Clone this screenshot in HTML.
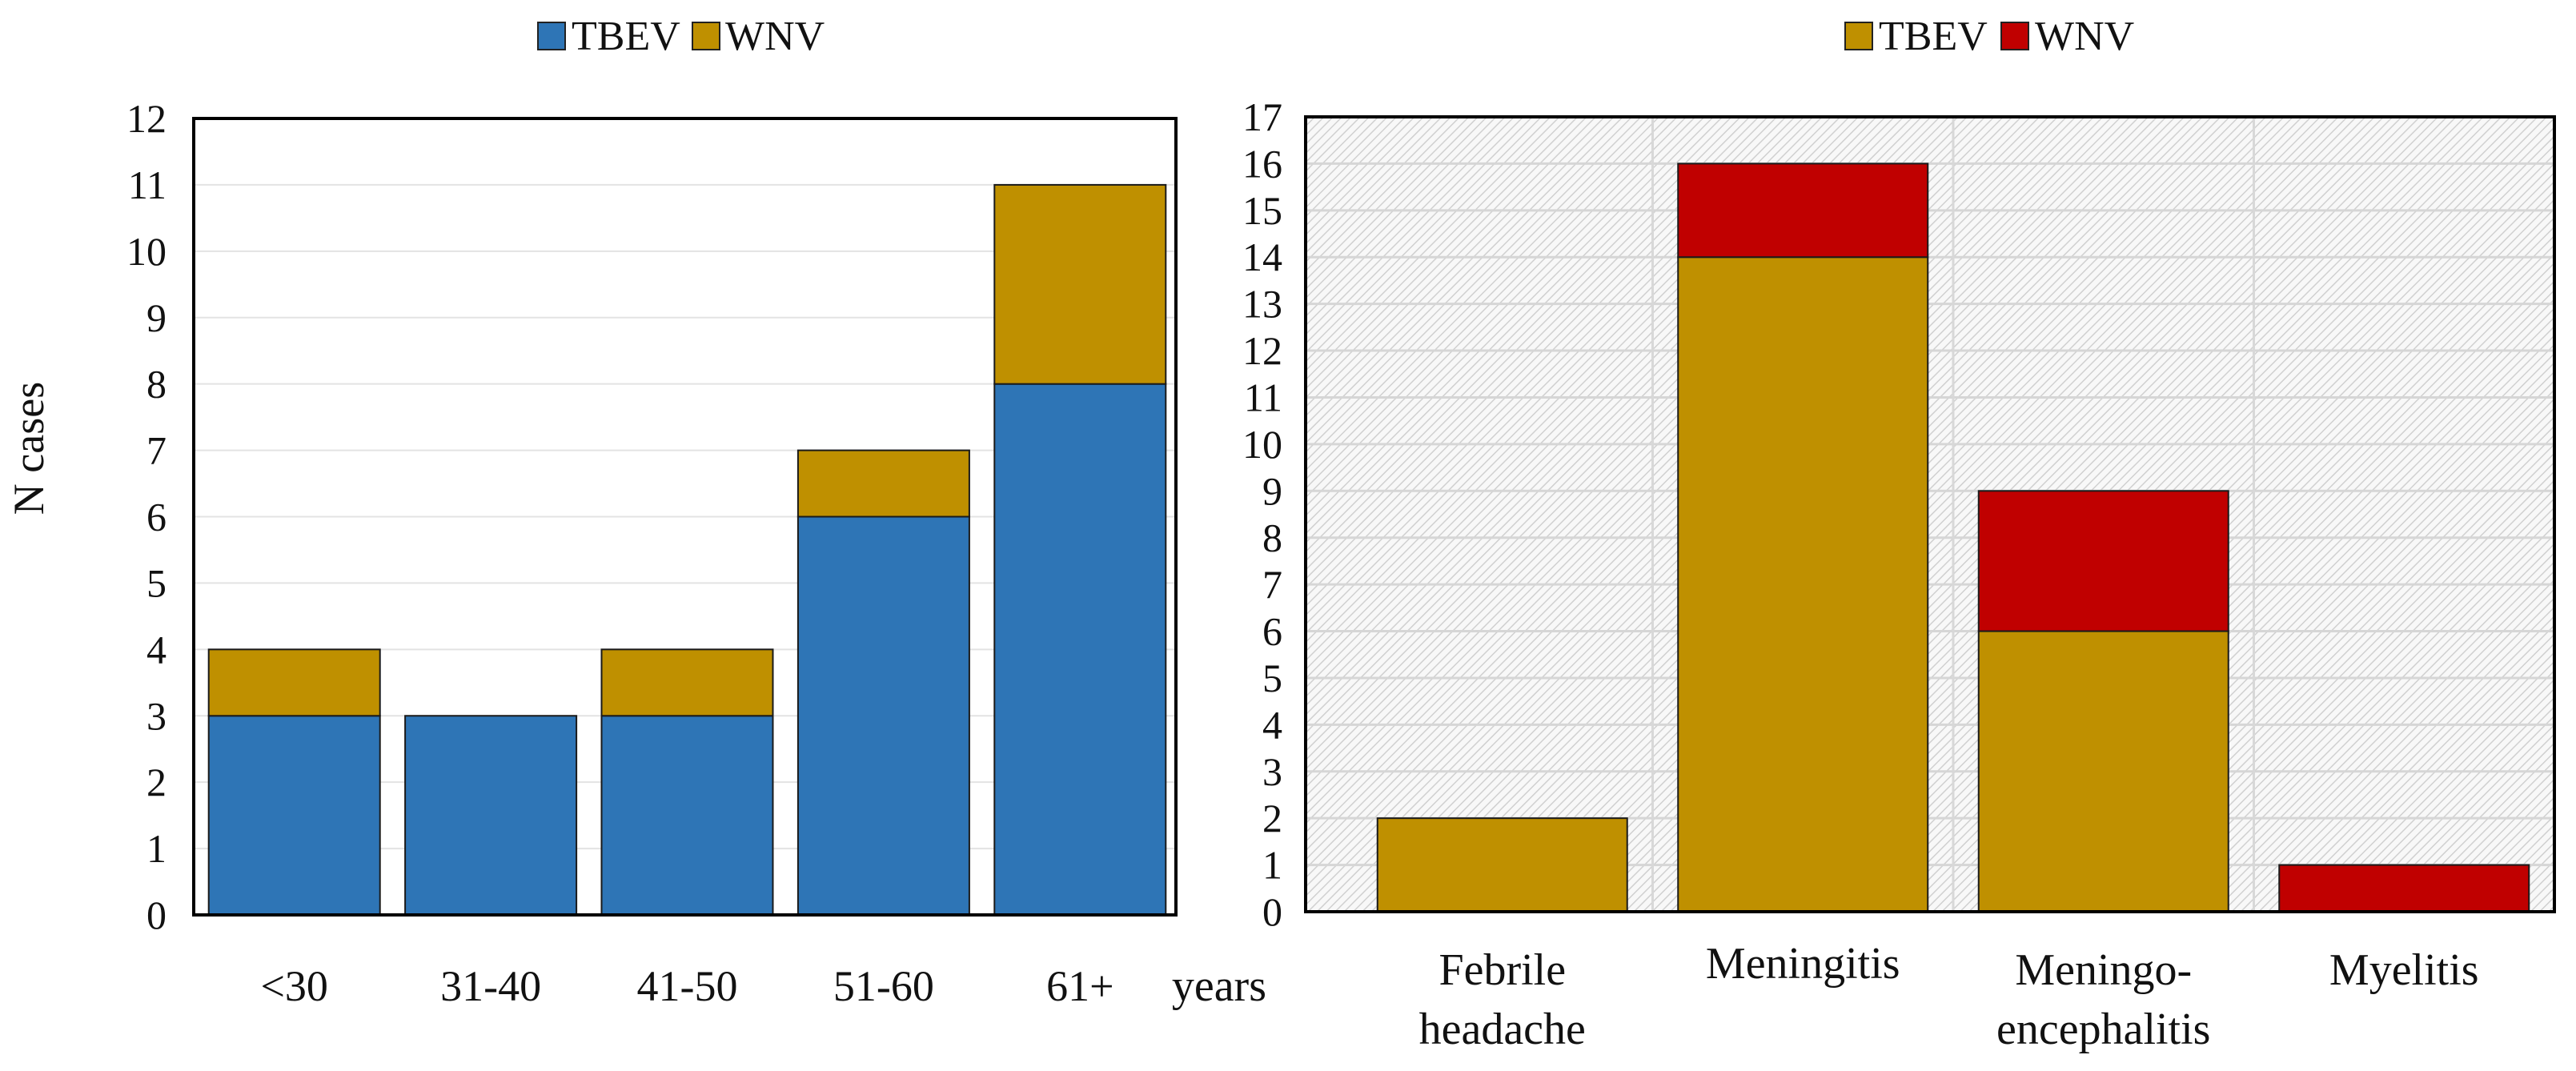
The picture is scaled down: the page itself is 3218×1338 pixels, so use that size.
<!DOCTYPE html>
<html><head><meta charset="utf-8"><style>
html,body{margin:0;padding:0;background:#fff;}
svg{display:block;font-family:"Liberation Serif","DejaVu Serif",serif;}
</style></head><body>
<svg id="chart" width="3218" height="1338" viewBox="0 0 3218 1338" xmlns="http://www.w3.org/2000/svg">
<defs>
<pattern id="hatch" patternUnits="userSpaceOnUse" width="8" height="8" patternTransform="rotate(45)">
<rect width="8" height="8" fill="#f8f8f8"/>
<line x1="0" y1="0" x2="0" y2="8" stroke="#d0d0d0" stroke-width="3"/>
</pattern>
</defs>
<g id="left"></g>
<g id="right"></g>
</svg>
<script>
const ageCategories = ["<30","31-40","41-50","51-60","61+"];
const ageTBEV = [3,3,3,6,8];
const ageWNV = [1,0,1,1,3];
const ageTicks = [0,1,2,3,4,5,6,7,8,9,10,11,12];

const synCategories = [["Febrile","headache"],["Meningitis"],["Meningo-","encephalitis"],["Myelitis"]];
const synTBEV = [2,14,6,0];
const synWNV = [0,2,3,1];
const synTicks = [0,1,2,3,4,5,6,7,8,9,10,11,12,13,14,15,16,17];

const NS="http://www.w3.org/2000/svg";
function mk(parent,tag,attrs,text){
  const e=document.createElementNS(NS,tag);
  for(const k in attrs)e.setAttribute(k,attrs[k]);
  if(text!==undefined)e.textContent=text;
  parent.appendChild(e);return e;
}

// LEFT CHART
(function(){
  const g=document.getElementById('left');
  const x0=242,x1=1469,yTop=148,yBot=1143,max=12;
  const y=v=>yBot-(yBot-yTop)*v/max;
  const bw=(x1-x0)/ageCategories.length;
  const xc=i=>x0+bw*(i+0.5);
  const grid=mk(g,'g',{});
  
  
  ageTicks.forEach(t=>{
    if(t>0&&t<max){const l=mk(grid,'line',{x1:x0,x2:x1,y1:y(t),y2:y(t),stroke:'#e3e3e3','stroke-width':2});
    }
    const tx=mk(g,'text',{x:208,y:y(t)+17,'text-anchor':'end','font-size':50,fill:'#111'},String(t));
    
    
  });
  ageCategories.forEach((c,i)=>{
    const w=214,l=xc(i)-w/2+3;
    const b=mk(g,'rect',{x:l,y:y(ageTBEV[i]),width:w,height:y(0)-y(ageTBEV[i]),fill:'#2e75b6',stroke:'#1a1a1a','stroke-width':2});
    
    
    if(ageWNV[i]>0){
      const b2=mk(g,'rect',{x:l,y:y(ageTBEV[i]+ageWNV[i]),width:w,height:y(ageTBEV[i])-y(ageTBEV[i]+ageWNV[i]),fill:'#bf9000',stroke:'#1a1a1a','stroke-width':2});
      
      
    }
    const t=mk(g,'text',{x:xc(i)+3,y:1250,'text-anchor':'middle','font-size':54,fill:'#111'},c);
    
    
  });
  const fr=mk(g,'rect',{x:x0,y:yTop,width:x1-x0,height:yBot-yTop,fill:'none',stroke:'#000','stroke-width':4});
  
  
  const yr=mk(g,'text',{x:1582,y:1250,'text-anchor':'end','font-size':56,fill:'#111'},'years');
  
  
  const yt=mk(g,'text',{x:0,y:0,'text-anchor':'middle','font-size':54,fill:'#111',transform:'translate(54,560) rotate(-90)'},'N cases');
  
  
  const lg=mk(g,'g',{});
  
  
  const s1=mk(lg,'rect',{x:672,y:28,width:34,height:34,fill:'#2e75b6',stroke:'#222','stroke-width':2});
  
  const t1=mk(lg,'text',{x:714,y:62,'font-size':52,fill:'#111'},'TBEV');
  
  const s2=mk(lg,'rect',{x:865,y:28,width:34,height:34,fill:'#bf9000',stroke:'#222','stroke-width':2});
  
  const t2=mk(lg,'text',{x:906,y:62,'font-size':52,fill:'#111'},'WNV');
  
})();

// RIGHT CHART
(function(){
  const g=document.getElementById('right');
  const x0=1631,x1=3191,yTop=146,yBot=1139,max=17;
  const cx0=1689;
  const y=v=>yBot-(yBot-yTop)*v/max;
  const bw=(x1-cx0)/synCategories.length;
  const xc=i=>cx0+bw*(i+0.5);
  const bg=mk(g,'rect',{x:x0,y:yTop,width:x1-x0,height:yBot-yTop,fill:'url(#hatch)'});
  
  
  synTicks.forEach(t=>{
    if(t>0&&t<max){const l=mk(g,'line',{x1:x0,x2:x1,y1:y(t),y2:y(t),stroke:'#d6d6d6','stroke-width':3});
    }
    const tx=mk(g,'text',{x:1602,y:y(t)+17,'text-anchor':'end','font-size':50,fill:'#111'},String(t));
    
    
  });
  for(let i=1;i<synCategories.length;i++){
    const l=mk(g,'line',{x1:cx0+bw*i,x2:cx0+bw*i,y1:yTop,y2:yBot,stroke:'#d8d8d8','stroke-width':3});
    
  }
  synCategories.forEach((c,i)=>{
    const w=312,l=xc(i)-w/2;
    const nm=c.join(' ');
    if(synTBEV[i]>0){
      const b=mk(g,'rect',{x:l,y:y(synTBEV[i]),width:w,height:y(0)-y(synTBEV[i]),fill:'#bf9000',stroke:'#1a1a1a','stroke-width':2});
      
      
    }
    if(synWNV[i]>0){
      const b2=mk(g,'rect',{x:l,y:y(synTBEV[i]+synWNV[i]),width:w,height:y(synTBEV[i])-y(synTBEV[i]+synWNV[i]),fill:'#c00000',stroke:'#1a1a1a','stroke-width':2});
      
      
    }
    const baseY = (i===1) ? 1222 : 1230;
    c.forEach((line,k)=>{
      const t=mk(g,'text',{x:xc(i),y:baseY+k*74,'text-anchor':'middle','font-size':56,fill:'#111'},line);
      
      
    });
  });
  const fr=mk(g,'rect',{x:x0,y:yTop,width:x1-x0,height:yBot-yTop,fill:'none',stroke:'#000','stroke-width':4});
  
  
  const lg=mk(g,'g',{});
  
  
  const s1=mk(lg,'rect',{x:2305,y:28,width:34,height:34,fill:'#bf9000',stroke:'#222','stroke-width':2});
  
  const t1=mk(lg,'text',{x:2347,y:62,'font-size':52,fill:'#111'},'TBEV');
  
  const s2=mk(lg,'rect',{x:2500,y:28,width:34,height:34,fill:'#c00000',stroke:'#222','stroke-width':2});
  
  const t2=mk(lg,'text',{x:2542,y:62,'font-size':52,fill:'#111'},'WNV');
  
})();
</script>
</body></html>
